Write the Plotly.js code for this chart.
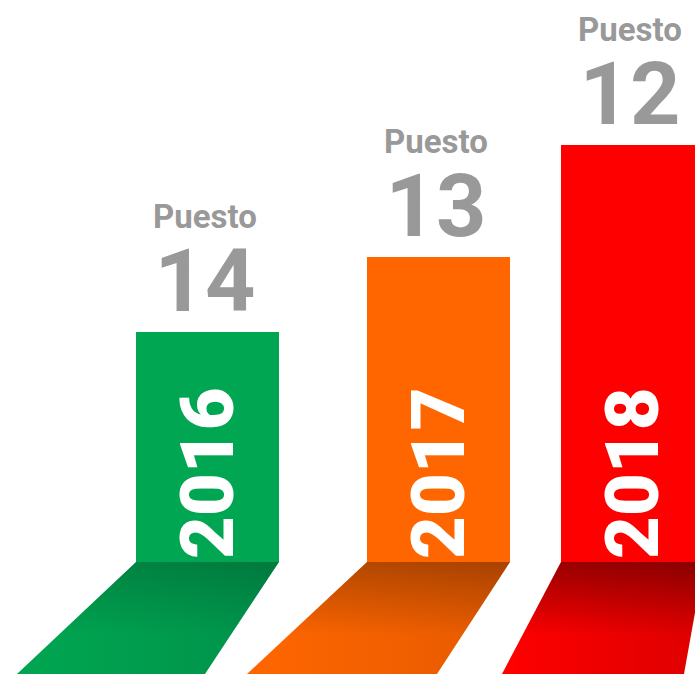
<!DOCTYPE html>
<html>
<head>
<meta charset="utf-8">
<script src="https://cdn.plot.ly/plotly-3.0.1.min.js"></script>
<style>html,body{margin:0;padding:0;background:#fff;}#chart{width:695px;height:674px;}</style>
</head>
<body>
<div id="chart"></div>
<script>
// ---- data ----
const years = ['2016', '2017', '2018'];
const puestoLabel = ['Puesto', 'Puesto', 'Puesto'];
const puesto = [14, 13, 12];
const barHeights = [230, 305, 417];

// ---- styling / layout constants ----
const barCenters = [207.5, 438.5, 632.5];
const barWidth = 143;
const barColors = ['#00a651', '#ff6600', '#ff0000'];
const shadowRight = ['#00924a', '#e65a00', '#dd0000'];
const shadowTopAlpha = [0.17, 0.27, 0.38];
const shadowShift = [[-119, -74], [-120, -73], [-59, -20]];
const shadowDepth = 112;
const textFont = 'Roboto, DejaVu Sans Condensed, sans-serif';

const traces = [];
years.forEach((yr, i) => {
  const x0 = barCenters[i] - barWidth / 2, x1 = barCenters[i] + barWidth / 2;
  const bx0 = x0 + shadowShift[i][0], bx1 = x1 + shadowShift[i][1];
  const px = [x0, x1, bx1, bx0, x0];
  const py = [0, 0, -shadowDepth, -shadowDepth, 0];
  traces.push({
    type: 'scatter', mode: 'lines', hoverinfo: 'skip', showlegend: false,
    x: px, y: py,
    fill: 'toself', line: {width: 0, color: 'rgba(0,0,0,0)'},
    fillgradient: {type: 'horizontal', start: Math.min(bx0, x0), stop: Math.max(bx1, x1),
      colorscale: [[0, barColors[i]], [1, shadowRight[i]]]}
  });
  traces.push({
    type: 'scatter', mode: 'lines', hoverinfo: 'skip', showlegend: false,
    x: px, y: py,
    fill: 'toself', line: {width: 0, color: 'rgba(0,0,0,0)'},
    fillgradient: {type: 'vertical', start: -shadowDepth, stop: 0,
      colorscale: [[0, 'rgba(0,0,0,0)'], [0.35, 'rgba(0,0,0,0)'], [1, 'rgba(0,0,0,' + shadowTopAlpha[i] + ')']]}
  });
});

traces.push({
  type: 'bar', x: barCenters, y: barHeights, width: barWidth,
  marker: {color: barColors, line: {width: 0}},
  text: years, textposition: 'inside', insidetextanchor: 'start', textangle: -90,
  constraintext: 'none',
  textfont: {family: textFont, size: 74, color: '#ffffff', weight: 900},
  hoverinfo: 'skip', showlegend: false
});

const annotations = [];
years.forEach((yr, i) => {
  annotations.push({
    x: barCenters[i], y: barHeights[i], xref: 'x', yref: 'y',
    text: '<span style="font-size:33px">' + puestoLabel[i] + '</span><br>' +
          '<span style="font-size:88px">' + puesto[i] + '</span>',
    showarrow: false, xanchor: 'center', yanchor: 'bottom', align: 'center',
    yshift: -2, xshift: -3,
    font: {family: textFont, size: 64, color: '#999999', weight: 700}
  });
});

const layout = {
  width: 695, height: 674,
  margin: {l: 0, r: 0, t: 0, b: 0},
  paper_bgcolor: '#ffffff', plot_bgcolor: '#ffffff',
  xaxis: {range: [0, 695], visible: false, fixedrange: true},
  yaxis: {range: [-112, 562], visible: false, fixedrange: true},
  annotations: annotations,
  showlegend: false
};

Plotly.newPlot('chart', traces, layout, {displayModeBar: false, staticPlot: true});
</script>
</body>
</html>
